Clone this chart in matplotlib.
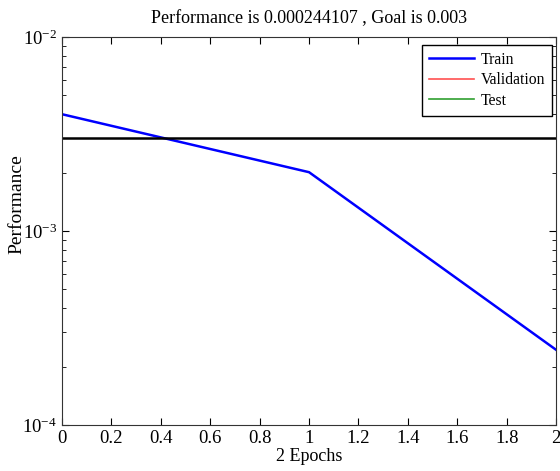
import matplotlib
matplotlib.use("Agg")
import matplotlib.pyplot as plt
from matplotlib.ticker import LogLocator, FixedLocator

plt.rcParams["font.family"] = ["Liberation Serif", "DejaVu Serif"]
plt.rcParams["mathtext.fontset"] = "custom"
plt.rcParams["mathtext.rm"] = "Liberation Serif"

epochs = [0, 1, 2]
train_perf = [0.00400, 0.00201, 0.000244107]
goal = 0.003
x_ticks = [0, 0.2, 0.4, 0.6, 0.8, 1, 1.2, 1.4, 1.6, 1.8, 2]
x_labels = ["0", "0.2", "0.4", "0.6", "0.8", "1", "1.2", "1.4", "1.6", "1.8", "2"]

fig = plt.figure(figsize=(5.6, 4.71), dpi=100)
ax = fig.add_axes([0.1107, 0.0977, 0.8823, 0.8237])

ax.semilogy(epochs, train_perf, color="#0000ff", lw=1.8, label="Train")
ax.plot([], [], color="#ff5050", lw=1.2, label="Validation")
ax.plot([], [], color="#30a030", lw=1.2, label="Test")
ax.axhline(goal, color="black", lw=1.8)

ax.set_xlim(0, 2)
ax.set_ylim(1e-4, 1e-2)
ax.set_xticks(x_ticks)
ax.set_xticklabels(x_labels)
ax.yaxis.set_major_locator(FixedLocator([1e-4, 1e-3, 1e-2]))
ax.yaxis.set_minor_locator(LogLocator(base=10, subs=range(2, 10)))
ax.tick_params(which="both", direction="in", top=True, right=True, labelsize=13.5)
ax.tick_params(which="major", length=5)
ax.tick_params(which="minor", length=3)
for s in ax.spines.values():
    s.set_color("#333333")

ax.set_title("Performance is 0.000244107 , Goal is 0.003", fontsize=13, pad=10)
ax.set_xlabel("2 Epochs", fontsize=13, labelpad=1)
ax.set_ylabel("Performance", fontsize=14)
ax.yaxis.set_label_coords(-0.075, 0.57)

leg = ax.legend(loc="upper right", fontsize=11.3, fancybox=False, framealpha=1,
                edgecolor="black", handlelength=2.9, borderpad=0.45,
                labelspacing=0.28, handletextpad=0.4, borderaxespad=0,
                bbox_to_anchor=(0.992, 0.98))
leg.get_frame().set_linewidth(1.0)

fig.savefig("out.png", dpi=100)
